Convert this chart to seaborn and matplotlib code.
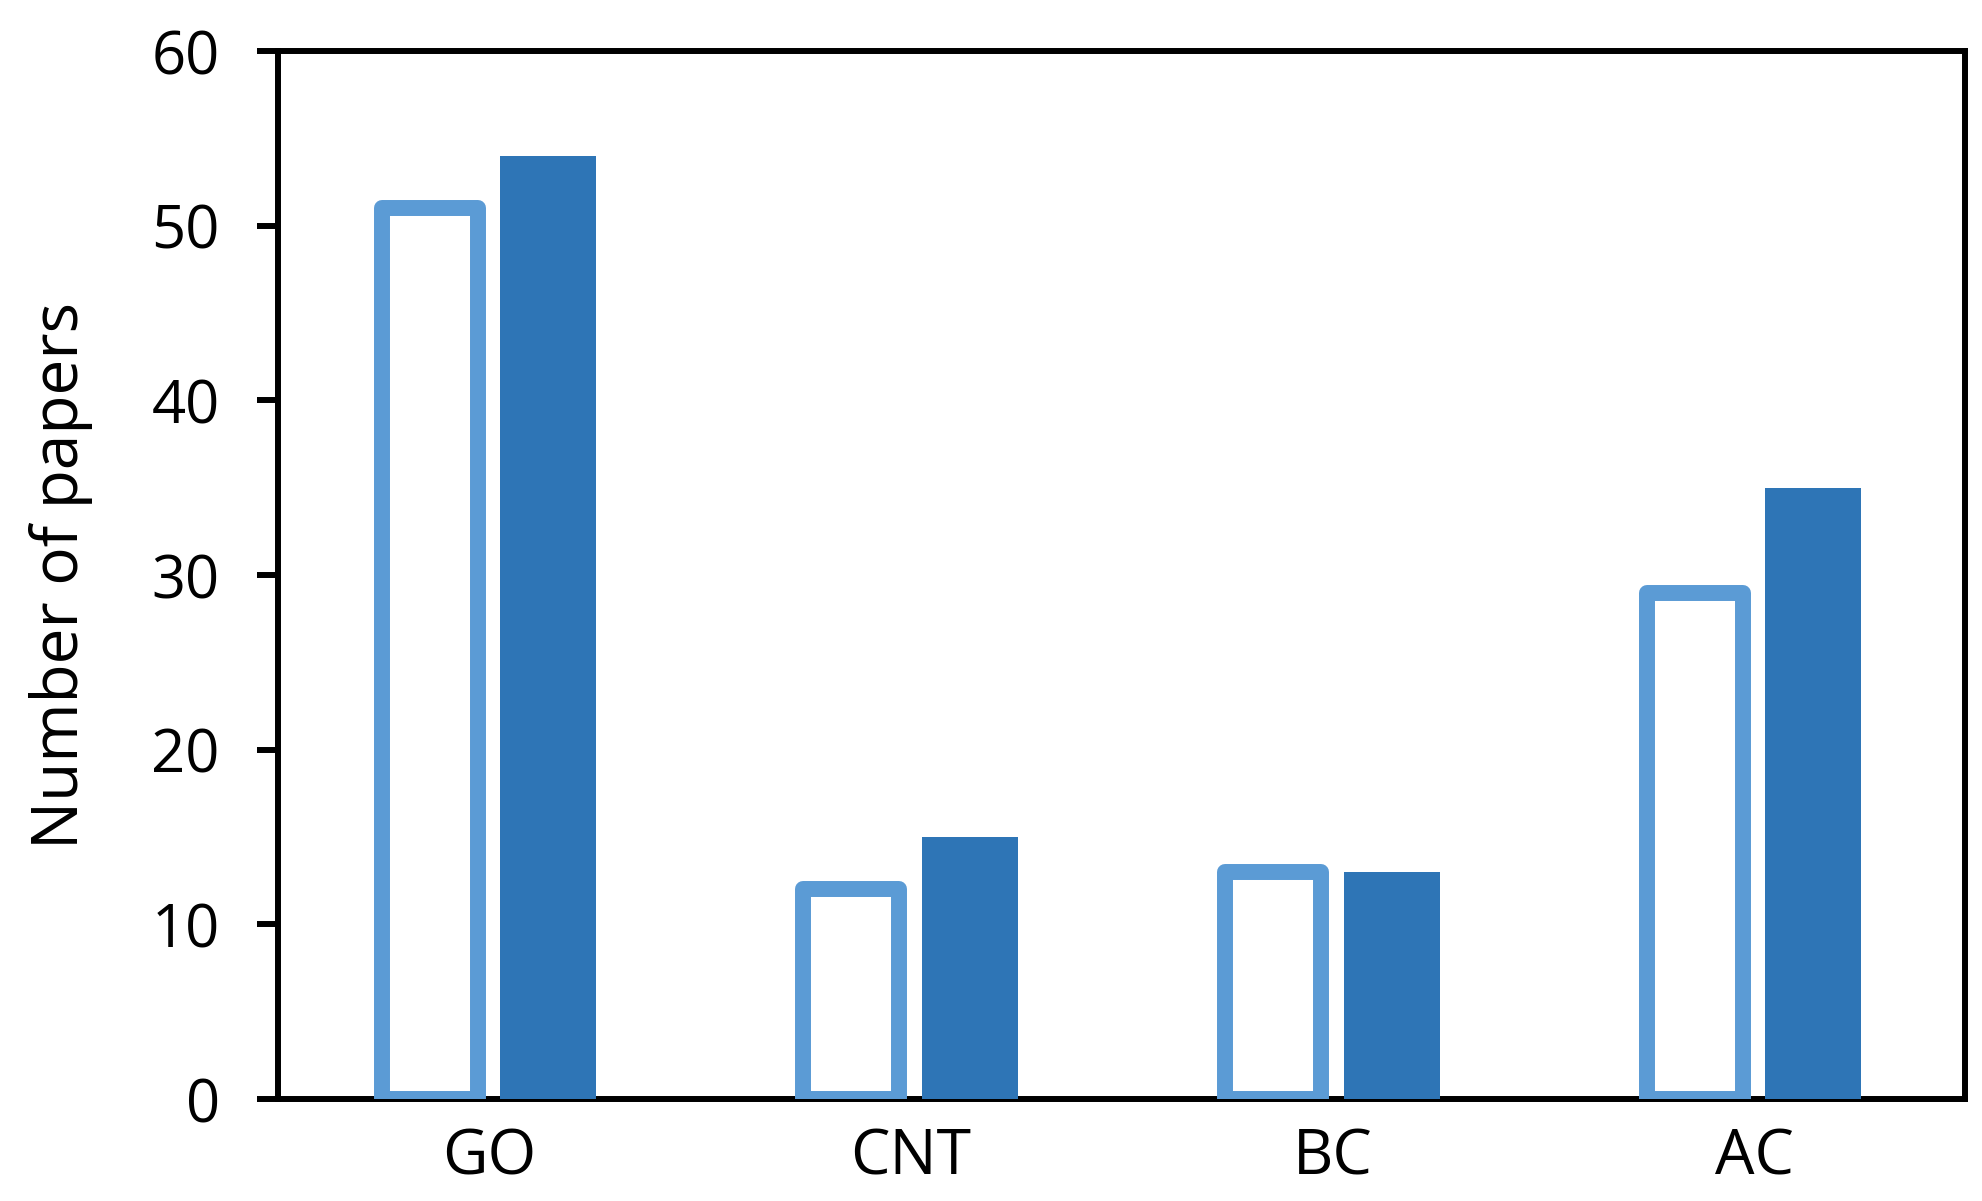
import pandas as pd
import matplotlib
matplotlib.use("Agg")
import matplotlib.pyplot as plt
import seaborn as sns

# data
categories = ["GO", "CNT", "BC", "AC"]
series_names = ["open", "filled"]
open_values = [51, 12, 13, 29]
filled_values = [54, 15, 13, 35]
y_ticks = [0, 10, 20, 30, 40, 50, 60]

# build a long dataframe for seaborn
df = pd.DataFrame({
    "Material": categories * 2,
    "Series": [series_names[0]] * len(categories) + [series_names[1]] * len(categories),
    "Papers": open_values + filled_values,
})

sns.set_style("white")
plt.rcParams["font.family"] = ["Open Sans", "DejaVu Sans"]
plt.rcParams["text.color"] = "black"
plt.rcParams["xtick.color"] = "black"
plt.rcParams["ytick.color"] = "black"
plt.rcParams["axes.labelcolor"] = "black"

fig = plt.figure(figsize=(19.82, 12.01), dpi=100)
ax = fig.add_axes([0.1403, 0.0849, 0.8511, 0.8726])

sns.barplot(data=df, x="Material", y="Papers", hue="Series",
            palette=["white", "#2E75B6"], width=0.562, gap=0.19,
            legend=False, ax=ax, zorder=3, saturation=1)

# style the open bars as outlined boxes
n = len(categories)
for i, patch in enumerate(ax.patches):
    if i < n:
        patch.set_facecolor("white")
        patch.set_edgecolor("#5B9BD5")
        patch.set_linewidth(11.5)
        patch.set_joinstyle("round")
    else:
        patch.set_edgecolor("none")

# axes settings
ax.set_ylim(0, 60)
ax.set_xlim(-0.5, 3.5)
ax.set_yticks(y_ticks)
ax.set_xlabel("")
ax.set_ylabel("Number of papers", fontsize=46)
ax.yaxis.set_label_coords(-0.110, 0.5)
ax.tick_params(axis="y", which="major", direction="out", length=15, width=4.3,
               labelsize=43, pad=27, left=True)
ax.tick_params(axis="x", length=0, labelsize=45, pad=20)
for spine in ax.spines.values():
    spine.set_visible(True)
    spine.set_linewidth(4.3)
    spine.set_color("black")
    spine.set_zorder(2.5)

plt.savefig("out.png", dpi=100)
plt.close()
